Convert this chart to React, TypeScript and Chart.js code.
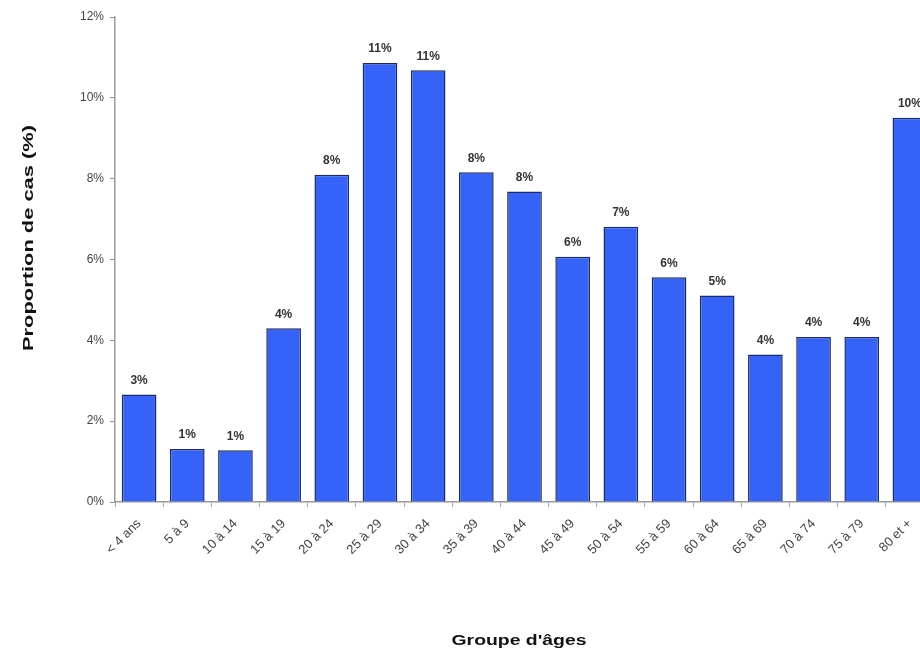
import React, { useEffect, useRef } from "react";
import { Chart, registerables } from "chart.js";

Chart.register(...registerables);

const categories = [
  "< 4 ans", "5 à 9", "10 à 14", "15 à 19", "20 à 24", "25 à 29", "30 à 34",
  "35 à 39", "40 à 44", "45 à 49", "50 à 54", "55 à 59", "60 à 64", "65 à 69",
  "70 à 74", "75 à 79", "80 et +",
];
const values = [2.66, 1.31, 1.28, 4.3, 8.1, 10.86, 10.68, 8.16, 7.68, 6.07, 6.81, 5.56, 5.11, 3.65, 4.08, 4.08, 9.51];
const yTicks = [0, 2, 4, 6, 8, 10, 12];
const xTitle = "Groupe d'âges";
const yTitle = "Proportion de cas (%)";

const FONT = "'Liberation Sans', Arial, sans-serif";

const labelPlugin = {
  id: "barLabels",
  afterDatasetsDraw(chart: any) {
    const ctx = chart.ctx;
    const meta = chart.getDatasetMeta(0);
    ctx.save();
    ctx.font = `bold 12px ${FONT}`;
    ctx.fillStyle = "#333";
    ctx.textAlign = "center";
    ctx.textBaseline = "bottom";
    meta.data.forEach((bar: any, i: number) => {
      ctx.fillText(Math.round(values[i]) + "%", bar.x, bar.y - 8);
    });
    ctx.restore();
  },
};

// Stretched axis titles (the reference text is wider than its glyph height)
const titlePlugin = {
  id: "stretchedTitles",
  afterDraw(chart: any) {
    const ctx = chart.ctx;
    ctx.save();
    ctx.fillStyle = "#111";
    ctx.textAlign = "center";
    ctx.textBaseline = "middle";
    // x title
    ctx.font = `bold 14px ${FONT}`;
    let w = ctx.measureText(xTitle).width;
    ctx.save();
    ctx.translate(519, 641);
    ctx.scale(135 / w, 1);
    ctx.fillText(xTitle, 0, 0);
    ctx.restore();
    // y title
    ctx.font = `bold 15px ${FONT}`;
    w = ctx.measureText(yTitle).width;
    ctx.save();
    ctx.translate(29, 238);
    ctx.rotate(-Math.PI / 2);
    ctx.scale(226 / w, 1);
    ctx.fillText(yTitle, 0, 0);
    ctx.restore();
    ctx.restore();
  },
};

export default function App() {
  const ref = useRef<HTMLCanvasElement | null>(null);
  useEffect(() => {
    if (!ref.current) return;
    const chart = new Chart(ref.current, {
      type: "bar",
      data: {
        labels: categories,
        datasets: [
          {
            data: values,
            backgroundColor: "#3562f7",
            borderColor: "#1a2a6a",
            borderWidth: 1.5,
            categoryPercentage: 1,
            barPercentage: 0.72,
          },
        ],
      },
      options: {
        responsive: false,
        animation: false,
        devicePixelRatio: 1,
        layout: { padding: { top: 17, right: 0, left: 0, bottom: 0 } },
        plugins: {
          legend: { display: false },
          tooltip: { enabled: false },
        },
        scales: {
          x: {
            afterFit: (scale: any) => {
              scale.height = 151;
            },
            grid: {
              drawOnChartArea: false,
              color: "#aaa",
              tickLength: 5,
              offset: true,
            },
            border: { color: "#999", width: 1.5 },
            ticks: {
              maxRotation: 45,
              minRotation: 45,
              color: "#444",
              font: { family: FONT, size: 13 },
              padding: 9,
              autoSkip: false,
            },
          },
          y: {
            min: 0,
            max: 12,
            afterBuildTicks: (scale: any) => {
              scale.ticks = yTicks.map((v) => ({ value: v }));
            },
            afterFit: (scale: any) => {
              scale.width = 115;
            },
            grid: { drawOnChartArea: false, color: "#999", tickLength: 5 },
            border: { color: "#999", width: 1.5 },
            ticks: {
              color: "#444",
              font: { family: FONT, size: 12 },
              callback: (v: any) => v + "%",
              padding: 6,
            },
          },
        },
      },
      plugins: [labelPlugin, titlePlugin],
    });
    return () => chart.destroy();
  }, []);
  return (
    <div
      style={{
        position: "fixed",
        left: 0,
        top: 0,
        width: 920,
        height: 653,
        overflow: "hidden",
        background: "#fff",
      }}
    >
      <canvas ref={ref} width={934} height={653} style={{ display: "block" }} />
    </div>
  );
}
